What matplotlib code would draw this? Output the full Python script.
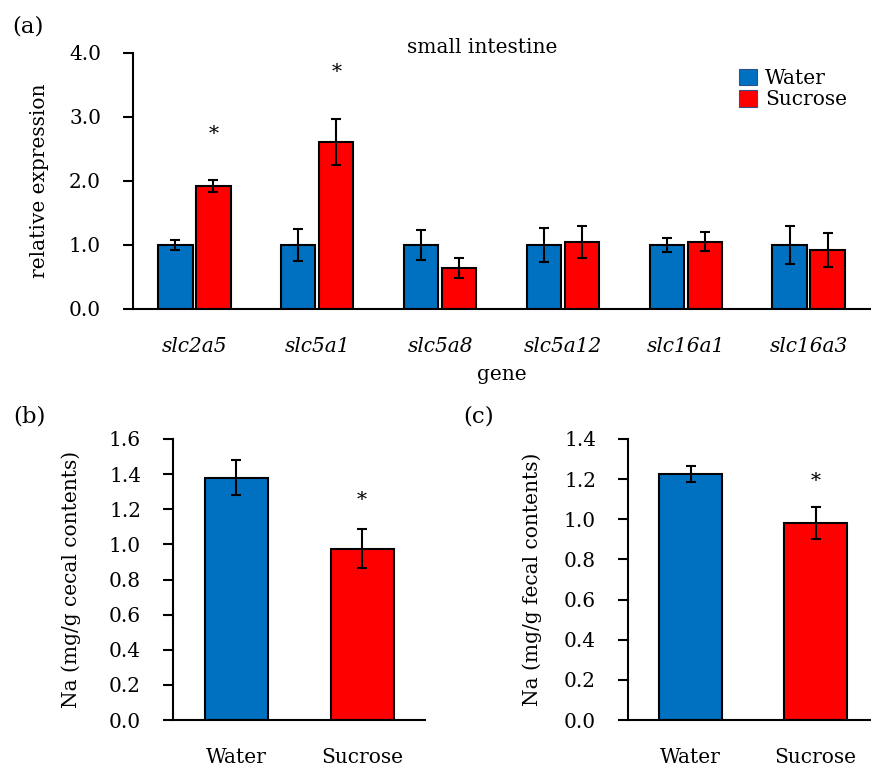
import numpy as np
import matplotlib
matplotlib.use("Agg")
import matplotlib.pyplot as plt
from matplotlib.patches import Patch

plt.rcParams['font.family'] = ['DejaVu Serif']

# panel (a) data
genes = ['slc2a5', 'slc5a1', 'slc5a8', 'slc5a12', 'slc16a1', 'slc16a3']
water_a = [1.0, 1.0, 1.0, 1.0, 1.0, 1.0]
water_a_err = [0.08, 0.25, 0.24, 0.26, 0.11, 0.29]
sucrose_a = [1.92, 2.61, 0.64, 1.04, 1.05, 0.92]
sucrose_a_err = [0.09, 0.36, 0.15, 0.25, 0.15, 0.26]
star_a = {0: 2.72, 1: 3.69}

# panel (b) data
groups = ['Water', 'Sucrose']
na_cecal = [1.38, 0.975]
na_cecal_err = [0.10, 0.11]
star_b = 1.25

# panel (c) data
na_fecal = [1.226, 0.98]
na_fecal_err = [0.04, 0.08]
star_c = 1.19

BLUE = '#0070C0'
RED = '#FF0000'
FS = 14.5
W, H = 871, 769

fig = plt.figure(figsize=(W / 100, H / 100), dpi=100)


def px_axes(left, right, top, bottom):
    return fig.add_axes([left / W, 1 - bottom / H, (right - left) / W, (bottom - top) / H])


def style(ax):
    for s in ['top', 'right']:
        ax.spines[s].set_visible(False)
    for s in ['left', 'bottom']:
        ax.spines[s].set_linewidth(1.5)
    ax.tick_params(axis='y', direction='out', length=7, width=1.5, labelsize=FS, pad=16)
    ax.tick_params(axis='x', length=0, labelsize=FS, pad=20)


errkw = dict(ecolor='black', elinewidth=1.5, capsize=3.5, capthick=1.5)

# (a)
ax = px_axes(133, 870, 53, 309)
x = np.arange(len(genes))
off = 0.155
bw = 0.28
ax.bar(x - off, water_a, bw, yerr=water_a_err, color=BLUE, edgecolor='black',
       linewidth=1.5, error_kw=errkw, zorder=2)
ax.bar(x + off, sucrose_a, bw, yerr=sucrose_a_err, color=RED, edgecolor='black',
       linewidth=1.5, error_kw=errkw, zorder=2)
for i, yv in star_a.items():
    ax.text(x[i] + off, yv, '*', ha='center', va='center', fontsize=FS)
ax.set_xlim(-0.5, len(genes) - 0.5)
ax.set_ylim(0, 4.0)
ax.set_yticks(np.arange(0, 4.01, 1.0))
ax.set_yticklabels(['%.1f' % v for v in np.arange(0, 4.01, 1.0)])
ax.set_xticks(x)
ax.set_xticklabels(genes, style='italic')
ax.set_xlabel('gene', fontsize=FS, labelpad=7)
ax.set_ylabel('relative expression', fontsize=FS, labelpad=14)
style(ax)
ax.text(0.474, 1.0, 'small intestine', transform=ax.transAxes, ha='center',
        va='baseline', fontsize=FS)
ax.legend(handles=[Patch(facecolor=BLUE, edgecolor='#2F528F', linewidth=0.8, label='Water'),
                   Patch(facecolor=RED, edgecolor='#2F528F', linewidth=0.8, label='Sucrose')],
          loc='upper left', bbox_to_anchor=(0.811, 0.97), frameon=False, fontsize=FS,
          handlelength=0.9, handleheight=0.9, handletextpad=0.4, labelspacing=0.1,
          borderaxespad=0)

# (b)
ax = px_axes(173, 425, 439, 720)
xb = np.arange(len(groups))
ax.bar(xb, na_cecal, 0.5, yerr=na_cecal_err, color=[BLUE, RED], edgecolor='black',
       linewidth=1.5, error_kw=errkw, zorder=2)
ax.text(xb[1], star_b, '*', ha='center', va='center', fontsize=FS)
ax.set_xlim(-0.5, 1.5)
ax.set_ylim(0, 1.6)
yt = np.arange(0, 1.61, 0.2)
ax.set_yticks(yt)
ax.set_yticklabels(['%.1f' % v for v in yt])
ax.set_xticks(xb)
ax.set_xticklabels(groups)
ax.set_ylabel('Na (mg/g cecal contents)', fontsize=FS, labelpad=20)
style(ax)

# (c)
ax = px_axes(628, 871, 439, 720)
ax.bar(xb, na_fecal, 0.5, yerr=na_fecal_err, color=[BLUE, RED], edgecolor='black',
       linewidth=1.5, error_kw=errkw, zorder=2)
ax.text(xb[1], star_c, '*', ha='center', va='center', fontsize=FS)
ax.set_xlim(-0.5, 1.444)
ax.set_ylim(0, 1.4)
yt = np.arange(0, 1.41, 0.2)
ax.set_yticks(yt)
ax.set_yticklabels(['%.1f' % v for v in yt])
ax.set_xticks(xb)
ax.set_xticklabels(groups)
ax.set_ylabel('Na (mg/g fecal contents)', fontsize=FS, labelpad=16)
style(ax)

fig.text(12 / W, 1 - 27 / H, '(a)', fontsize=16.5, va='center', ha='left')
fig.text(13 / W, 1 - 416 / H, '(b)', fontsize=16.5, va='center', ha='left')
fig.text(463 / W, 1 - 416 / H, '(c)', fontsize=16.5, va='center', ha='left')

fig.savefig('out.png', dpi=100)
